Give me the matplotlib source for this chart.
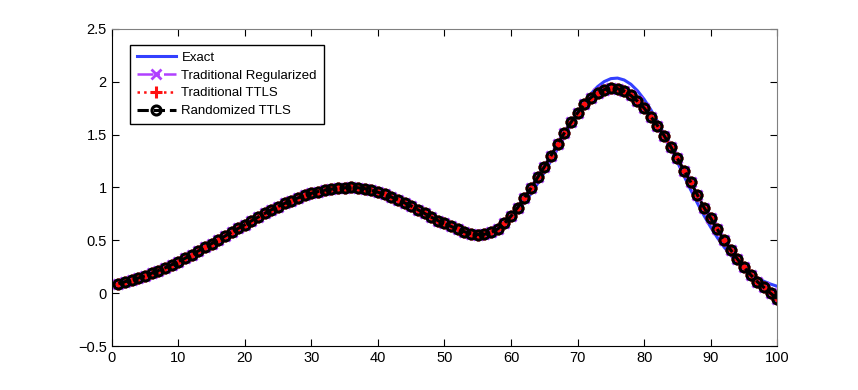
import matplotlib
matplotlib.use("Agg")
import matplotlib.pyplot as plt

plt.rcParams["font.family"] = ["Liberation Sans", "DejaVu Sans"]

x = list(range(1, 101))

exact = [
    0.108, 0.123, 0.140, 0.158, 0.178, 0.199, 0.223, 0.248, 0.275, 0.303,
    0.334, 0.365, 0.399, 0.433, 0.469, 0.506, 0.543, 0.581, 0.619, 0.657,
    0.695, 0.732, 0.767, 0.802, 0.834, 0.865, 0.893, 0.918, 0.940, 0.959,
    0.975, 0.987, 0.995, 0.999, 1.000, 0.996, 0.989, 0.978, 0.963, 0.945,
    0.923, 0.899, 0.873, 0.844, 0.814, 0.783, 0.752, 0.721, 0.691, 0.663,
    0.637, 0.616, 0.600, 0.590, 0.587, 0.593, 0.609, 0.635, 0.672, 0.722,
    0.783, 0.857, 0.942, 1.038, 1.142, 1.253, 1.368, 1.484, 1.597, 1.704,
    1.801, 1.885, 1.953, 2.001, 2.029, 2.034, 2.016, 1.976, 1.914, 1.833,
    1.735, 1.624, 1.502, 1.373, 1.240, 1.107, 0.977, 0.852, 0.734, 0.625,
    0.526, 0.438, 0.360, 0.292, 0.235, 0.186, 0.146, 0.113, 0.087, 0.066,
]

randomized_ttls = [
    0.092, 0.110, 0.125, 0.145, 0.165, 0.190, 0.215, 0.240, 0.270, 0.300,
    0.330, 0.365, 0.400, 0.435, 0.470, 0.505, 0.540, 0.578, 0.613, 0.648,
    0.685, 0.720, 0.755, 0.790, 0.820, 0.850, 0.877, 0.902, 0.925, 0.945,
    0.962, 0.975, 0.985, 0.993, 0.998, 1.000, 0.998, 0.990, 0.975, 0.955,
    0.935, 0.910, 0.885, 0.855, 0.825, 0.790, 0.755, 0.720, 0.688, 0.660,
    0.632, 0.605, 0.582, 0.565, 0.555, 0.558, 0.575, 0.608, 0.660, 0.730,
    0.810, 0.900, 0.995, 1.095, 1.195, 1.300, 1.410, 1.515, 1.615, 1.705,
    1.785, 1.850, 1.895, 1.925, 1.940, 1.935, 1.910, 1.870, 1.815, 1.750,
    1.670, 1.585, 1.490, 1.385, 1.275, 1.160, 1.050, 0.930, 0.810, 0.710,
    0.605, 0.505, 0.410, 0.325, 0.245, 0.175, 0.110, 0.055, 0.000, -0.050,
]
traditional_ttls = randomized_ttls
traditional_reg = randomized_ttls

fig = plt.figure(figsize=(8.58, 3.9), dpi=100)
ax = fig.add_axes([0.1302, 0.1123, 0.7757, 0.8139])

ax.plot(x, exact, color="#3340ff", lw=2.2, label="Exact")
ax.plot(x, traditional_reg, color="#b040ff", ls="-.", lw=1.8, marker="x",
        ms=7, mew=2, label="Traditional Regularized")
ax.plot(x, traditional_ttls, color="#ff1010", ls=":", lw=1.8, marker="+",
        ms=8, mew=2.2, label="Traditional TTLS")
ax.plot(x, randomized_ttls, color="black", ls="--", lw=2.2, marker="o",
        ms=6.5, mew=2.2, mfc="none", label="Randomized TTLS")

ax.set_xlim(0, 100)
ax.set_ylim(-0.5, 2.5)
ax.set_xticks(range(0, 101, 10))
ax.set_yticks([-0.5, 0, 0.5, 1, 1.5, 2, 2.5])
ax.set_yticklabels(["\u22120.5", "0", "0.5", "1", "1.5", "2", "2.5"])
ax.tick_params(direction="in", top=True, right=True, length=5, labelsize=10.5)
for s in ["top", "right"]:
    ax.spines[s].set_color("0.5")

leg = ax.legend(loc="upper left", bbox_to_anchor=(0.0275, 0.949), fontsize=9.5,
                fancybox=False, edgecolor="black", framealpha=1,
                handlelength=3.0, borderaxespad=0, labelspacing=0.42,
                borderpad=0.5, handletextpad=0.4)
leg.get_frame().set_linewidth(1.0)

fig.savefig("out.png", dpi=100)
